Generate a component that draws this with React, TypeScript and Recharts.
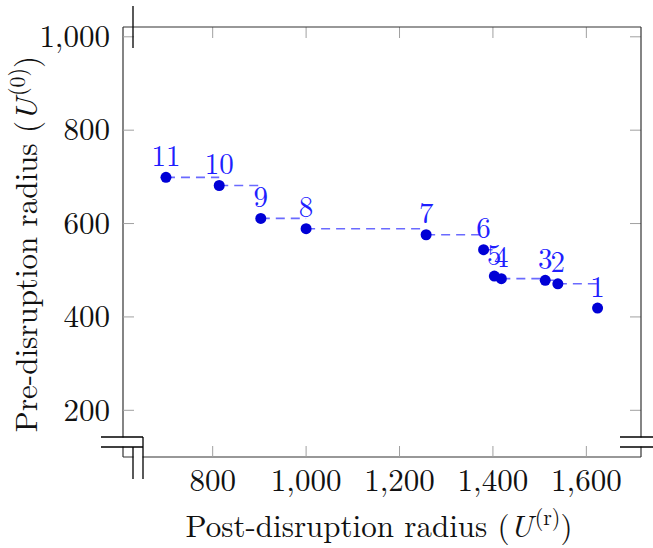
import React from "react";
import { ComposedChart, Line, Scatter, XAxis, YAxis, LabelList } from "recharts";

// points, ordered by label 1..11
const POINT_LABELS = ["1", "2", "3", "4", "5", "6", "7", "8", "9", "10", "11"];
const POST_RADIUS = [1624, 1539, 1512, 1418, 1403, 1380, 1257, 1000, 903, 814, 700];
const PRE_RADIUS = [419, 471, 478.5, 482, 487.5, 544, 576, 589, 611, 681.5, 699];

const X_TICKS = [800, 1000, 1200, 1400, 1600];
const Y_TICKS = [200, 400, 600, 800, 1000];
const X_DOMAIN = [608, 1717];
const Y_DOMAIN = [100, 1021];

const W = 653;
const H = 548;
const PLOT = { left: 123, top: 27, right: 641, bottom: 457 };
const FONT = "'Latin Modern Roman', 'Liberation Serif', serif";
const FS = 31;
const TICK_LEN = 11;
const FRAME = "#333";
const TICK_COLOR = "#a0a0a0";

const points = POINT_LABELS.map((label, i) => ({ x: POST_RADIUS[i], y: PRE_RADIUS[i], label }));

// horizontal dashed steps: each point's level carried to the next point on the left
const steps: { x: number; y: number | null }[] = [];
for (let i = points.length - 1; i > 0; i--) {
  const p = points[i];
  const next = points[i - 1];
  steps.push({ x: p.x, y: p.y }, { x: next.x, y: p.y }, { x: next.x, y: null });
}

const fmt = (v: number) => v.toLocaleString("en-US");

function XTick(props: any) {
  const { x, y, payload } = props;
  return (
    <g>
      <line x1={x} x2={x} y1={PLOT.bottom} y2={PLOT.bottom - TICK_LEN} stroke={TICK_COLOR} />
      <line x1={x} x2={x} y1={PLOT.top} y2={PLOT.top + TICK_LEN} stroke={TICK_COLOR} />
      <text x={x} y={y + 34} textAnchor="middle" fontFamily={FONT} fontSize={FS} fill="#111">
        {fmt(payload.value)}
      </text>
    </g>
  );
}

function YTick(props: any) {
  const { x, y, payload } = props;
  return (
    <g>
      <line x1={PLOT.left} x2={PLOT.left + TICK_LEN} y1={y} y2={y} stroke={TICK_COLOR} />
      <line x1={PLOT.right - TICK_LEN} x2={PLOT.right} y1={y} y2={y} stroke={TICK_COLOR} />
      <text x={x} y={y} dy="0.33em" textAnchor="end" fontFamily={FONT} fontSize={FS} fill="#111">
        {fmt(payload.value)}
      </text>
    </g>
  );
}

function XTitle(props: any) {
  const vb = props.viewBox || { x: PLOT.left, width: PLOT.right - PLOT.left };
  return (
    <text x={vb.x + vb.width / 2 - 3} y={537} textAnchor="middle" fontFamily={FONT} fontSize={FS} fill="#111">
      Post-disruption radius (<tspan fontStyle="italic">U</tspan>
      <tspan fontSize={22} dx={2} dy={-12}>(r)</tspan>
      <tspan dy={12}>)</tspan>
    </text>
  );
}

function YTitle(props: any) {
  const vb = props.viewBox || { y: PLOT.top, height: PLOT.bottom - PLOT.top };
  const cy = vb.y + vb.height / 2 + 2;
  return (
    <text
      x={37}
      y={cy}
      transform={`rotate(-90 37 ${cy})`}
      textAnchor="middle"
      fontFamily={FONT}
      fontSize={FS}
      fill="#111"
    >
      Pre-disruption radius (<tspan fontStyle="italic">U</tspan>
      <tspan fontSize={22} dx={2} dy={-12}>(0)</tspan>
      <tspan dy={12}>)</tspan>
    </text>
  );
}

function PointLabel(props: any) {
  const { x, y, width, height, value } = props;
  const cx = x + (width || 0) / 2;
  const cy = y + (height || 0) / 2;
  return (
    <text x={cx} y={cy - 11.5} textAnchor="middle" fontFamily={FONT} fontSize={29} fill="#1f1fff">
      {value}
    </text>
  );
}

function Dot(props: any) {
  return <circle cx={props.cx} cy={props.cy} r={5.5} fill="#0000d6" />;
}

function Breaks() {
  return (
    <svg width={W} height={H} style={{ position: "absolute", left: 0, top: 0, pointerEvents: "none" }}>
      <line x1={PLOT.left} x2={PLOT.right} y1={PLOT.top} y2={PLOT.top} stroke={FRAME} strokeWidth={1.2} />
      <line x1={PLOT.right} x2={PLOT.right} y1={PLOT.top} y2={PLOT.bottom} stroke={FRAME} strokeWidth={1.2} />
      {/* top-left mark */}
      <line x1={133} x2={133} y1={6} y2={48} stroke="#000" strokeWidth={1.3} />
      {/* bottom-left: y break then x break */}
      <rect x={100} y={437.5} width={43} height={9} fill="#fff" />
      <rect x={133.5} y={437.5} width={9} height={42} fill="#fff" />
      <line x1={101} x2={143} y1={437} y2={437} stroke="#000" strokeWidth={1.3} />
      <line x1={101} x2={143} y1={447} y2={447} stroke="#000" strokeWidth={1.3} />
      <line x1={133} x2={133} y1={447} y2={479} stroke="#000" strokeWidth={1.3} />
      <line x1={143} x2={143} y1={437} y2={479} stroke="#000" strokeWidth={1.3} />
      {/* bottom-right y break */}
      <rect x={619} y={437.5} width={34} height={9} fill="#fff" />
      <line x1={620} x2={653} y1={437} y2={437} stroke="#000" strokeWidth={1.3} />
      <line x1={620} x2={653} y1={447} y2={447} stroke="#000" strokeWidth={1.3} />
    </svg>
  );
}

export default function App() {
  return (
    <div style={{ position: "absolute", left: 0, top: 0, width: W, height: H, background: "#fff" }}>
      <ComposedChart
        width={W}
        height={H}
        margin={{ top: PLOT.top, right: W - PLOT.right, left: PLOT.left - 100, bottom: H - PLOT.bottom - 60 }}
      >
        <XAxis
          type="number"
          dataKey="x"
          domain={X_DOMAIN}
          allowDataOverflow
          ticks={X_TICKS}
          tick={<XTick />}
          tickLine={false}
          tickSize={0}
          tickMargin={0}
          height={60}
          axisLine={{ stroke: FRAME, strokeWidth: 1.2 }}
          label={{ content: <XTitle /> }}
        />
        <YAxis
          type="number"
          dataKey="y"
          domain={Y_DOMAIN}
          allowDataOverflow
          ticks={Y_TICKS}
          tick={<YTick />}
          tickLine={false}
          tickSize={0}
          tickMargin={13}
          width={100}
          axisLine={{ stroke: FRAME, strokeWidth: 1.2 }}
          label={{ content: <YTitle /> }}
        />
        <Line
          data={steps}
          dataKey="y"
          stroke="#6a6aff"
          strokeWidth={1.6}
          strokeDasharray="9 6"
          dot={false}
          activeDot={false}
          connectNulls={false}
          isAnimationActive={false}
        />
        <Scatter data={points} dataKey="y" shape={<Dot />} isAnimationActive={false}>
          <LabelList dataKey="label" content={<PointLabel />} />
        </Scatter>
      </ComposedChart>
      <Breaks />
    </div>
  );
}
